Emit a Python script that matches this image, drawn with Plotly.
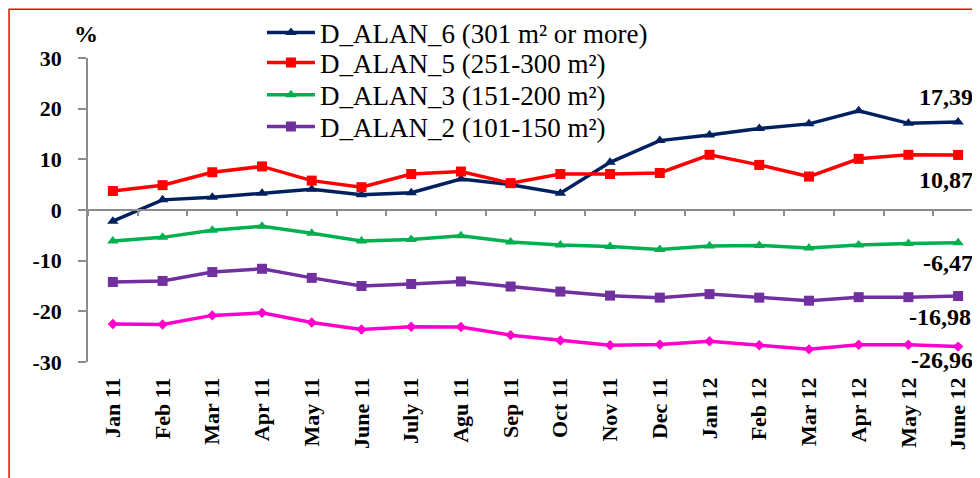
import plotly.graph_objects as go

months = ["Jan 11", "Feb 11", "Mar 11", "Apr 11", "May 11", "June 11", "July 11", "Agu 11",
          "Sep 11", "Oct 11", "Nov 11", "Dec 11", "Jan 12", "Feb 12", "Mar 12", "Apr 12",
          "May 12", "June 12"]

d_alan_6 = [-2.2, 2.0, 2.5, 3.3, 4.1, 3.0, 3.4, 6.1, 5.0, 3.3, 9.4, 13.7, 14.8, 16.1, 17.0, 19.6, 17.1, 17.39]
d_alan_5 = [3.75, 4.9, 7.45, 8.6, 5.8, 4.5, 7.1, 7.6, 5.3, 7.1, 7.1, 7.3, 10.9, 8.9, 6.6, 10.1, 10.9, 10.87]
d_alan_3 = [-6.1, -5.4, -4.0, -3.2, -4.6, -6.1, -5.8, -5.1, -6.3, -6.9, -7.2, -7.8, -7.1, -7.0, -7.5, -6.9, -6.6, -6.47]
d_alan_2 = [-14.2, -14.0, -12.25, -11.6, -13.4, -15.0, -14.6, -14.1, -15.1, -16.1, -16.9, -17.3, -16.6, -17.3, -17.9, -17.2, -17.2, -16.98]
d_alan_1 = [-22.5, -22.6, -20.8, -20.3, -22.2, -23.6, -23.05, -23.1, -24.7, -25.75, -26.7, -26.55, -25.9, -26.7, -27.5, -26.6, -26.6, -26.96]

names = ["D_ALAN_6 (301 m² or more)", "D_ALAN_5 (251-300 m²)", "D_ALAN_3 (151-200 m²)",
         "D_ALAN_2 (101-150 m²)", "D_ALAN_1"]
y_ticks = [30, 20, 10, 0, -10, -20, -30]
y_ticktext = [str(t) for t in y_ticks]

series = [d_alan_6, d_alan_5, d_alan_3, d_alan_2, d_alan_1]
colors = ["#002060", "#FF0000", "#00B050", "#7030A0", "#FF00CC"]
symbols = ["triangle-up", "square", "triangle-up", "square", "diamond"]
msizes = [10, 10, 10, 10, 8]
label_shift = [(-12, 25), (-12, -25), (-10, -20), (-18, -21), (-16, -13)]
legend_ids = ["legend", "legend2", "legend3", "legend4", None]
legend_y = [1.082, 0.984, 0.878, 0.773]

SERIF = "Liberation Serif, Times New Roman, serif"

fig = go.Figure()
for i, (vals, nm, col, sym, ms) in enumerate(zip(series, names, colors, symbols, msizes)):
    kw = {}
    if legend_ids[i]:
        kw["legend"] = legend_ids[i]
    fig.add_trace(go.Scatter(
        x=months, y=vals, name=nm, mode="lines+markers",
        line=dict(color=col, width=3.5),
        marker=dict(symbol=sym, size=ms, color=col),
        showlegend=(i < 4),
        xaxis="x2" if i == 4 else "x",
        **kw,
    ))

for vals, (dx, dy) in zip(series, label_shift):
    v = vals[-1]
    fig.add_annotation(
        x=months[-1], y=v, text=f"{v:.2f}".replace(".", ","), showarrow=False,
        xshift=dx, yshift=dy, xanchor="center", yanchor="middle",
        font=dict(family=SERIF, size=24, color="black", weight="bold"),
    )

fig.add_annotation(
    xref="paper", yref="paper", x=-0.002, y=1.079, text="%", showarrow=False,
    xanchor="center", yanchor="middle",
    font=dict(family=SERIF, size=24, color="black", weight="bold"),
)

# red frame (top and left edges visible in the picture)
fig.add_shape(type="rect", xref="paper", yref="paper",
              x0=-0.0885, x1=1.3, y0=-0.6, y1=1.160,
              line=dict(color="#FF0000", width=1.5), layer="below")

legend_style = dict(
    x=0.195, xanchor="left", yanchor="middle",
    font=dict(family=SERIF, size=27, color="black"),
    bgcolor="rgba(0,0,0,0)", itemwidth=48,
)
legends = {}
for lid, ly in zip(legend_ids[:4], legend_y):
    legends[lid] = dict(legend_style, y=ly)

fig.update_layout(
    width=972, height=470,
    margin=dict(l=80, r=0, t=50, b=116),
    paper_bgcolor="white", plot_bgcolor="white",
    showlegend=True,
    xaxis=dict(
        type="category", range=[-0.5, 17.44], showline=False, showgrid=False,
        zeroline=False, ticks="", tickangle=-90, ticklabelstandoff=10,
        tickfont=dict(family=SERIF, size=22, color="black", weight="bold"),
    ),
    xaxis2=dict(
        type="category", matches="x", overlaying="x", anchor="free", position=0.5,
        showline=True, linecolor="#8C8C8C", linewidth=1.5, showgrid=False,
        ticks="outside", ticklen=5, tickcolor="#8C8C8C", tickwidth=1.5,
        tickson="boundaries", showticklabels=False, zeroline=False,
    ),
    yaxis=dict(
        range=[-30, 30], tickvals=y_ticks, ticktext=y_ticktext,
        showgrid=False, zeroline=False,
        showline=True, linecolor="#8C8C8C", linewidth=1.5,
        ticks="outside", ticklen=8, tickcolor="#8C8C8C", tickwidth=1.5,
        ticklabelstandoff=12,
        tickfont=dict(family=SERIF, size=22, color="black", weight="bold"),
    ),
    **legends,
)

fig.write_html("out.html")
